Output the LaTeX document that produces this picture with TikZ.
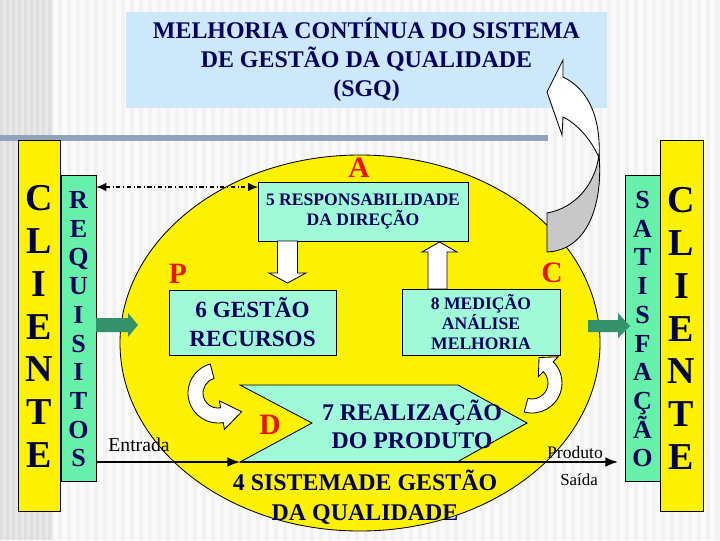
\documentclass[tikz,border=0pt]{standalone}
\usepackage{fontspec}
\setmainfont{Liberation Serif}
\usetikzlibrary{calc}
\usetikzlibrary{arrows.meta}

\definecolor{navytext}{RGB}{0,0,90}
\definecolor{titleblue}{RGB}{204,232,250}
\definecolor{barblue}{RGB}{143,163,188}
\definecolor{colgreen}{RGB}{102,240,170}
\definecolor{boxaqua}{RGB}{160,250,215}
\definecolor{arrgreen}{RGB}{52,145,105}
\definecolor{pdcared}{RGB}{235,20,0}
\definecolor{ribbongrey}{RGB}{200,200,200}

\begin{document}
\begin{tikzpicture}[x=0.025cm,y=-0.025cm]
\tikzset{pdcabox/.style={draw=black,line width=0.6pt,fill=boxaqua,text=navytext,align=center,inner sep=0pt}}
\tikzset{colbox/.style={draw=black,line width=0.6pt,inner sep=0pt}}
\tikzset{bigletter/.style={text=navytext!60!black,font=\bfseries\fontsize{27}{27}\selectfont,text height=18pt,text depth=0pt,inner sep=0pt}}
\tikzset{colletter/.style={text=navytext,font=\bfseries\fontsize{18.5}{18.5}\selectfont,text height=12.2pt,text depth=0pt,inner sep=0pt}}
\tikzset{pdcaletter/.style={text=pdcared,font=\bfseries\fontsize{21}{21}\selectfont}}
\tikzset{blockarrow/.style={draw=black,line width=0.6pt,fill=white}}
\tikzset{flowline/.style={line width=1.3pt,-{Latex[length=9pt,width=7pt]}}}
\useasboundingbox (0,0) rectangle (720,540);

% background stripes
\fill[black!5] (0,0) rectangle (720,540);
\foreach \k in {0,...,73} \fill[black!2] ({53+9*\k},0) rectangle ({57.5+9*\k},540);
\fill[black!9] (0,0) rectangle (53,540);
\foreach \k in {0,...,8} \fill[black!13] ({6*\k},0) rectangle ({6*\k+3},540);

% title
\node[fill=titleblue,minimum width=12.025cm,minimum height=2.4cm,align=center,text=navytext,
  font=\bfseries\fontsize{17}{20.5}\selectfont] (title) at (366.5,60)
  {MELHORIA CONTÍNUA DO SISTEMA\\DE GESTÃO DA QUALIDADE\\(SGQ)};
\fill[barblue] (0,135) rectangle (548,141);

% the system
\draw[fill=yellow,line width=0.6pt] (360,343) ellipse [x radius=240,y radius=188];

% client columns
\node[colbox,fill=yellow,minimum width=1.05cm,minimum height=9.275cm] (clientL) at (39,325.5) {};
\node[colbox,fill=colgreen,minimum width=0.875cm,minimum height=7.65cm] (requis) at (78.5,328) {};
\node[colbox,fill=colgreen,minimum width=0.875cm,minimum height=7.65cm] (satisf) at (642.5,328) {};
\node[colbox,fill=yellow,minimum width=1.075cm,minimum height=9.275cm] (clientR) at (681.5,325.5) {};
\foreach \ch [count=\i] in {C,L,I,E,N,T,E} {
  \node[bigletter] (cl\i) at (39,{198+42.8*(\i-1)}) {\ch};
  \node[bigletter] (cr\i) at (681.5,{200+42.8*(\i-1)}) {\ch};
}
\foreach \ch [count=\i] in {R,E,Q,U,I,S,I,T,O,S}
  \node[colletter] (rq\i) at (78.5,{200+28.7*(\i-1)}) {\ch};
\foreach \ch [count=\i] in {S,A,T,I,S,F,A,Ç,Ã,O}
  \node[colletter] (sf\i) at (642.5,{200+28.7*(\i-1)}) {\ch};

% improvement arrow
\draw[blockarrow] (563,60) -- (547,92) -- (562,135) -- (563,117)
  .. controls (580,125) and (594,145) .. (599,158)
  .. controls (601,120) and (590,90) .. (563,77) -- cycle;
\draw[blockarrow,fill=ribbongrey] (547,213) .. controls (575,208) and (595,185) .. (599,155)
  .. controls (603,200) and (590,250) .. (547,252) -- cycle;

% PDCA boxes
\node[pdcabox,minimum width=5.25cm,minimum height=1.475cm,
  font=\bfseries\fontsize{12.5}{14}\selectfont] (resp) at (363,211.5) {5 RESPONSABILIDADE\\DA DIREÇÃO};
\node[pdcabox,minimum width=4.175cm,minimum height=1.625cm,
  font=\bfseries\fontsize{16.5}{20.5}\selectfont] (recur) at (252.5,322.5) {6 GESTÃO\\RECURSOS};
\node[pdcabox,minimum width=3.95cm,minimum height=1.65cm,
  font=\bfseries\fontsize{12.5}{14.5}\selectfont] (medic) at (481,322) {8 MEDIÇÃO\\ANÁLISE\\MELHORIA};

\coordinate (rpA) at (240,385);
\coordinate (rpB) at (458,385);
\coordinate (rpC) at (527,423);
\coordinate (rpD) at (457,462);
\coordinate (rpE) at (240,462);
\coordinate (rpF) at (312,423);
\draw[fill=boxaqua,line width=0.6pt] (rpA) -- (rpB) -- (rpC) -- (rpD) -- (rpE) -- (rpF) -- cycle;
\node[text=navytext,align=center,font=\bfseries\fontsize{17}{20}\selectfont] (realiz) at (412,424) {7 REALIZAÇÃO\\DO PRODUTO};
\node[text=navytext,align=center,font=\bfseries\fontsize{17}{21.3}\selectfont] (sgq) at (365,497) {4 SISTEMADE GESTÃO\\DA QUALIDADE};

\node[pdcaletter] (letA) at (359,168) {A};
\node[pdcaletter] (letP) at (178,274) {P};
\node[pdcaletter] (letC) at (552,273) {C};
\node[pdcaletter] (letD) at (270,425) {D};

% block arrows
\draw[blockarrow] (277.5,241) -- (297.5,241) -- (297.5,273) -- (306,273) -- (287.5,283) -- (269,273) -- (277.5,273) -- cycle;
\draw[blockarrow] (428,289) -- (447,289) -- (447,252) -- (457,252) -- (439.5,242) -- (422,252) -- (428,252) -- cycle;
\coordinate (lc) at (218,393);
\draw[blockarrow] ($(lc)+(255:30)$) arc[start angle=255,end angle=80,radius=30]
  -- ($(lc)+(80:37)$) -- (241.6,411.7) -- ($(lc)+(80:8)$) -- ($(lc)+(80:15)$)
  arc[start angle=80,end angle=255,radius=15] -- cycle;
\coordinate (rc) at (532,383);
\draw[blockarrow] ($(rc)+(105:30)$) arc[start angle=105,end angle=-45,radius=30]
  -- ($(rc)+(-45:37)$) -- (539,357.5) -- ($(rc)+(-45:9)$) -- ($(rc)+(-45:16)$)
  arc[start angle=-45,end angle=105,radius=16] -- cycle;
\fill[arrgreen] (96,318) -- (128,318) -- (128,313) -- (138,325) -- (128,337) -- (128,332) -- (96,332) -- cycle;
\fill[arrgreen] (588,320) -- (618,320) -- (618,313) -- (630,326) -- (618,338) -- (618,332) -- (588,332) -- cycle;

% flows
\coordinate (respin) at (258,187);
\draw[{Latex[length=7pt,width=6pt]}-{Latex[length=7pt,width=6pt]},dash dot,line width=0.8pt]
  (requis.east |- respin) -- (respin);
\coordinate (saida) at (618,462);
\draw[flowline] (requis.east |- rpE) -- (rpE);
\draw[flowline] (rpE) -- (saida);
\node[font=\fontsize{14}{14}\selectfont] (entr) at (139,445) {Entrada};
\node[font=\fontsize{12.5}{12.5}\selectfont] (prod) at (575,452) {Produto};
\node[font=\fontsize{12}{12}\selectfont] (said) at (579,480) {Saída};
\end{tikzpicture}
\end{document}
